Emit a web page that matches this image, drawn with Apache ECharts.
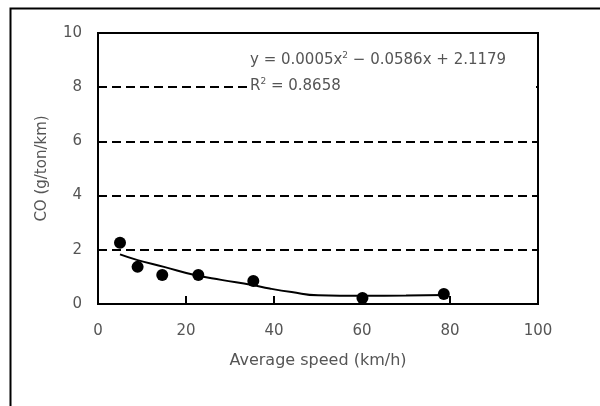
<!DOCTYPE html>
<html><head><meta charset="utf-8">
<script src="https://cdn.jsdelivr.net/npm/echarts@6/dist/echarts.min.js"></script>
<style>html,body{margin:0;padding:0;background:#fff}#c{width:600px;height:406px}</style>
</head><body><div id="c"></div>
<script>
// Measured points: average speed (km/h) vs CO (g/ton/km)
var speeds = [5, 9, 14.6, 22.8, 35.3, 60.1, 78.6];
var coValues = [2.26, 1.37, 1.07, 1.07, 0.85, 0.22, 0.37];
// Trendline
var trendX = [5, 9, 15, 22, 28, 35, 39, 44, 50, 60, 70, 79];
var trendY = [1.83, 1.62, 1.37, 1.07, 0.89, 0.70, 0.57, 0.44, 0.32, 0.30, 0.31, 0.33];
var xTicks = [0, 20, 40, 60, 80, 100];
var yTicks = [0, 2, 4, 6, 8, 10];
var eqLine1 = 'y = 0.0005x';
var eqLine2 = ' − 0.0586x + 2.1179';
var r2Text = ' = 0.8658';

var chart = echarts.init(document.getElementById('c'), null, {renderer: 'canvas'});
var font = 'DejaVu Sans, sans-serif';
var txt = '#555';
chart.setOption({
  animation: false,
  backgroundColor: '#fff',
  grid: {left: 98, right: 62, top: 33, bottom: 102, show: true, borderColor: '#000', borderWidth: 2, backgroundColor: 'transparent'},
  xAxis: {
    type: 'value', min: xTicks[0], max: xTicks[xTicks.length - 1], interval: 20,
    name: 'Average speed (km/h)', nameLocation: 'middle', nameGap: 49,
    nameTextStyle: {color: txt, fontSize: 16, fontFamily: font},
    axisLine: {show: true, lineStyle: {color: '#000', width: 2}},
    axisTick: {show: true, inside: true, length: 8, lineStyle: {color: '#000', width: 2}},
    axisLabel: {color: txt, fontSize: 15, fontFamily: font, margin: 20},
    splitLine: {show: false}
  },
  yAxis: {
    type: 'value', min: yTicks[0], max: yTicks[yTicks.length - 1], interval: 2,
    name: 'CO (g/ton/km)', nameLocation: 'middle', nameGap: 48,
    nameTextStyle: {color: txt, fontSize: 15, fontFamily: font},
    axisLine: {show: true, lineStyle: {color: '#000', width: 2}},
    axisTick: {show: false},
    axisLabel: {color: txt, fontSize: 15, fontFamily: font, margin: 16},
    splitLine: {show: true, lineStyle: {color: '#000', width: 2, type: [9, 5]}}
  },
  series: [
    {
      type: 'line', data: trendX.map(function (x, i) { return [x, trendY[i]]; }),
      smooth: true, showSymbol: false, lineStyle: {color: '#000', width: 2}, z: 3
    },
    {
      type: 'scatter', data: speeds.map(function (x, i) { return [x, coValues[i]]; }),
      symbol: 'circle', symbolSize: 12, itemStyle: {color: '#000', opacity: 1}, z: 4
    }
  ],
  graphic: [
    {type: 'rect', left: 8, top: 6, shape: {width: 620, height: 430}, style: {fill: 'none', stroke: '#000', lineWidth: 2}, z: -1, silent: true},
    {type: 'rect', left: 247, top: 44, shape: {width: 289, height: 52}, style: {fill: '#fff'}, z: 5},
    {type: 'text', left: 250, top: 51, z: 6, style: {
      text: '{a|' + eqLine1 + '}{s|2}{a|' + eqLine2 + '}',
      rich: {a: {fontSize: 15, fill: txt, fontFamily: font}, s: {fontSize: 9, fill: txt, fontFamily: font, verticalAlign: 'top', padding: [0, 0, 10, 0]}}
    }},
    {type: 'text', left: 250, top: 77, z: 6, style: {
      text: '{a|R}{s|2}{a|' + r2Text + '}',
      rich: {a: {fontSize: 15, fill: txt, fontFamily: font}, s: {fontSize: 9, fill: txt, fontFamily: font, verticalAlign: 'top', padding: [0, 0, 10, 0]}}
    }}
  ]
});
</script></body></html>
